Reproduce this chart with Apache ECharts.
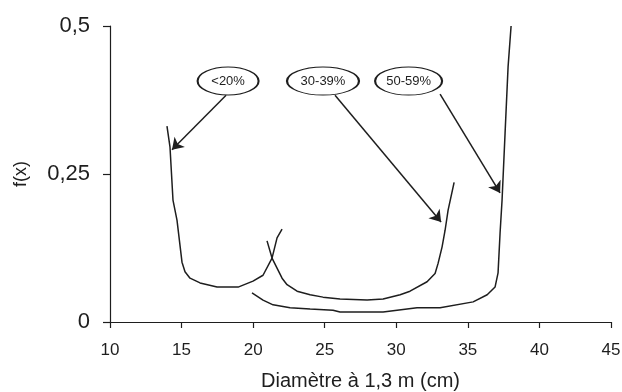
<!DOCTYPE html>
<html>
<head>
<meta charset="utf-8">
<script src="https://cdn.jsdelivr.net/npm/echarts@6/dist/echarts.min.js"></script>
<style>html,body{margin:0;padding:0;background:#fff;}#c{width:622px;height:392px;}</style>
</head>
<body>
<div id="c"></div>
<script>
// Data (x = diameter in cm, y = f(x))
const curveLt20 = [[13.98,0.331],[14.19,0.296],[14.40,0.206],[14.68,0.172],[15.03,0.101],[15.24,0.085],[15.59,0.074],[16.29,0.066],[17.48,0.059],[18.95,0.059],[19.99,0.069],[20.69,0.079],[21.32,0.108],[21.67,0.142],[22.02,0.157]];
const curve30_39 = [[20.97,0.137],[21.32,0.108],[22.02,0.074],[22.37,0.063],[23.07,0.052],[23.98,0.046],[24.88,0.042],[26.07,0.039],[27.96,0.037],[29.08,0.039],[30.27,0.046],[30.96,0.052],[32.15,0.068],[32.71,0.082],[32.92,0.099],[33.20,0.127],[33.41,0.155],[33.62,0.189],[34.04,0.236]];
const curve50_59 = [[19.92,0.049],[20.69,0.037],[21.39,0.029],[22.58,0.024],[23.98,0.022],[25.58,0.020],[26.07,0.017],[29.08,0.017],[31.45,0.024],[33.06,0.024],[35.37,0.034],[36.35,0.046],[36.90,0.059],[37.11,0.083],[37.25,0.150],[37.39,0.206],[37.60,0.319],[37.81,0.431],[38.02,0.5]];
const labels = ['<20%','30-39%','50-59%'];
const labelPos = [[18.25,0.407],[24.88,0.407],[30.86,0.407]];
const labelSize = [[61,28],[72,28],[67,28]];
const arrowFrom = [[18.11,0.383],[25.72,0.383],[33.06,0.385]];
const arrowTo = [[14.33,0.291],[33.13,0.169],[37.25,0.218]];
const xTicks = {min:10, max:45, interval:5};
const yTickLabels = ['0','0,25','0,5'];

const ink = '#1e1e1e';
const curves = [curveLt20, curve30_39, curve50_59];
const series = curves.map((d, i) => ({
  type: 'line',
  data: d,
  showSymbol: false,
  smooth: false,
  silent: true,
  lineStyle: {color: ink, width: 1.5},
  z: 2,
  markLine: {
    silent: true,
    symbol: ['none','arrow'],
    symbolSize: 11,
    label: {show: false},
    lineStyle: {color: ink, width: 1.5, type: 'solid'},
    data: [[{coord: arrowFrom[i]}, {coord: arrowTo[i]}]]
  },
  markPoint: {
    silent: true,
    symbol: 'circle',
    symbolSize: labelSize[i],
    itemStyle: {color: '#fff', borderColor: ink, borderWidth: 1.4},
    label: {show: true, formatter: labels[i], color: ink, fontSize: 13, fontFamily: 'Liberation Sans, Arial'},
    data: [{coord: labelPos[i], name: labels[i]}],
    z: 5
  }
}));

const chart = echarts.init(document.getElementById('c'));
chart.setOption({
  animation: false,
  backgroundColor: '#fff',
  grid: {left: 110, right: 11, top: 26, bottom: 70, containLabel: false, outerBoundsMode: 'none'},
  xAxis: {
    type: 'value', min: xTicks.min, max: xTicks.max, interval: xTicks.interval,
    name: 'Diamètre à 1,3 m (cm)', nameLocation: 'middle', nameGap: 49,
    nameTextStyle: {color: ink, fontSize: 20, fontFamily: 'Liberation Sans, Arial'},
    axisLine: {show: true, onZero: false, lineStyle: {color: ink, width: 1.2}},
    axisTick: {show: true, length: 6, lineStyle: {color: ink, width: 1.2}},
    axisLabel: {color: ink, fontSize: 17, margin: 20, fontFamily: 'Liberation Sans, Arial'},
    splitLine: {show: false}
  },
  yAxis: {
    type: 'value', min: 0, max: 0.5, interval: 0.25,
    name: 'f(x)', nameLocation: 'middle', nameGap: 80, nameRotate: 90,
    nameTextStyle: {color: ink, fontSize: 18, fontFamily: 'Liberation Sans, Arial'},
    axisLine: {show: true, onZero: false, lineStyle: {color: ink, width: 1.2}},
    axisTick: {show: true, length: 7, lineStyle: {color: ink, width: 1.2}},
    axisLabel: {color: ink, fontSize: 22, margin: 20, fontFamily: 'Liberation Sans, Arial',
      formatter: (v) => yTickLabels[Math.round(v / 0.25)]},
    splitLine: {show: false}
  },
  series: series
});
</script>
</body>
</html>
